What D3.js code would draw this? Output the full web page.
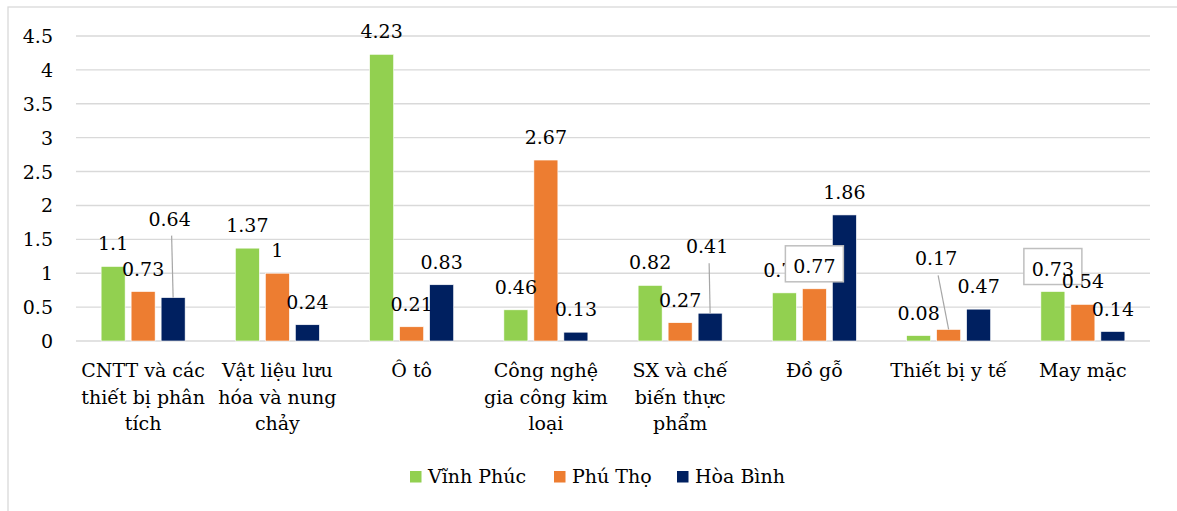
<!DOCTYPE html>
<html><head><meta charset="utf-8">
<script src="https://cdn.jsdelivr.net/npm/d3@7"></script>
<style>
html,body{margin:0;padding:0;background:#fff;}
svg{display:block;}
svg text{font-family:"DejaVu Serif","Liberation Serif",serif !important;}
</style></head>
<body>
<svg id="c" width="1177" height="511"></svg>
<script>
const categories = [
  ["CNTT và các","thiết bị phân","tích"],
  ["Vật liệu lưu","hóa và nung","chảy"],
  ["Ô tô"],
  ["Công nghệ","gia công kim","loại"],
  ["SX và chế","biến thực","phẩm"],
  ["Đồ gỗ"],
  ["Thiết bị y tế"],
  ["May mặc"]
];
const seriesNames = ["Vĩnh Phúc","Phú Thọ","Hòa Bình"];
const vinhPhuc = [1.1, 1.37, 4.23, 0.46, 0.82, 0.71, 0.08, 0.73];
const phuTho   = [0.73, 1, 0.21, 2.67, 0.27, 0.77, 0.17, 0.54];
const hoaBinh  = [0.64, 0.24, 0.83, 0.13, 0.41, 1.86, 0.47, 0.14];
const tickValues = [0, 0.5, 1, 1.5, 2, 2.5, 3, 3.5, 4, 4.5];
const colors = ["#92d050","#ed7d31","#002060"];
const FONT = "DejaVu Serif";
const FS = 19;

// label adjustments (layout only)
const labelAdjust = [
  {s:2, c:0, dx:-3.5, dy:-56, leader:true},
  {s:2, c:4, dx:-3, dy:-44, leader:true},
  {s:1, c:6, dx:-12.5, dy:-48, leader:true},
  {s:1, c:5, box:true},
  {s:0, c:7, box:true}
];

const seriesValues = [vinhPhuc, phuTho, hoaBinh];
const catKeys = categories.map(c => c.join(" "));
const svg = d3.select("#c");

svg.append("rect").attr("x",8).attr("y",7).attr("width",1300).attr("height",600)
  .attr("fill","none").attr("stroke","#d9d9d9").attr("stroke-width",1.3);

const x = d3.scaleBand().domain(catKeys).range([76,1150]).padding(0);
const xs = d3.scaleBand().domain(seriesNames).range([-42,42]).paddingInner(0.2);
const y = d3.scaleLinear().domain([0,4.5]).range([341,36]);

svg.append("g").selectAll("line").data(tickValues).join("line")
  .attr("x1",76).attr("x2",1150)
  .attr("y1",d=>y(d)).attr("y2",d=>y(d))
  .attr("stroke","#d9d9d9").attr("stroke-width",1.4);

const yAxis = d3.axisLeft(y).tickValues(tickValues).tickFormat(d=>String(d)).tickSize(0).tickPadding(0);
const gy = svg.append("g").attr("transform","translate(53,0)").call(yAxis)
  .attr("font-family",FONT).attr("font-size",FS);
gy.select(".domain").remove();
gy.selectAll("text").attr("font-size",FS).attr("fill","#000")
  .attr("font-family",FONT).attr("dy","0.34em");

const data = [];
seriesValues.forEach((vals,s)=>vals.forEach((v,c)=>data.push({s,c,v})));
svg.append("g").selectAll("rect").data(data).join("rect")
  .attr("x",d=>x(catKeys[d.c]) + x.bandwidth()/2 + xs(seriesNames[d.s]))
  .attr("width",xs.bandwidth())
  .attr("y",d=>y(d.v))
  .attr("height",d=>y(0)-y(d.v))
  .attr("fill",d=>colors[d.s])
  .attr("stroke","#fff").attr("stroke-width",0.6);

const lg = svg.append("g");
data.forEach(d=>{
  const adj = labelAdjust.find(a=>a.s===d.s && a.c===d.c) || {};
  const bx = x(catKeys[d.c]) + x.bandwidth()/2 + xs(seriesNames[d.s]) + xs.bandwidth()/2;
  const by = y(d.v);
  const lx = bx + (adj.dx||0);
  const ly = by - 16 + (adj.dy||0);
  if (adj.leader) {
    lg.append("line").attr("x1",lx+2).attr("y1",ly+10).attr("x2",bx).attr("y2",by)
      .attr("stroke","#a6a6a6").attr("stroke-width",1.2);
  }
  if (adj.box) {
    lg.append("rect").attr("x",lx-29).attr("y",ly-27).attr("width",58).attr("height",36)
      .attr("fill","#fff").attr("stroke","#bfbfbf").attr("stroke-width",1.5);
  }
  lg.append("text").attr("x",lx).attr("y",ly).attr("text-anchor","middle")
    .attr("font-family",FONT).attr("font-size",FS).attr("fill","#000").text(String(d.v));
});

const cg = svg.append("g");
categories.forEach((lines,i)=>{
  const cx = x(catKeys[i]) + x.bandwidth()/2;
  const t = cg.append("text").attr("text-anchor","middle").attr("font-family",FONT)
    .attr("font-size",FS).attr("fill","#000");
  lines.forEach((ln,j)=>{
    t.append("tspan").attr("x",cx).attr("y",377 + j*26.5).text(ln);
  });
});

const legX = [410, 554, 677];
const leg = svg.append("g");
seriesNames.forEach((n,i)=>{
  leg.append("rect").attr("x",legX[i]).attr("y",471).attr("width",11.5).attr("height",11.5).attr("fill",colors[i]);
  leg.append("text").attr("x",legX[i]+18).attr("y",483).attr("font-family",FONT)
    .attr("font-size",FS).attr("fill","#000").text(n);
});
</script>
</body></html>
